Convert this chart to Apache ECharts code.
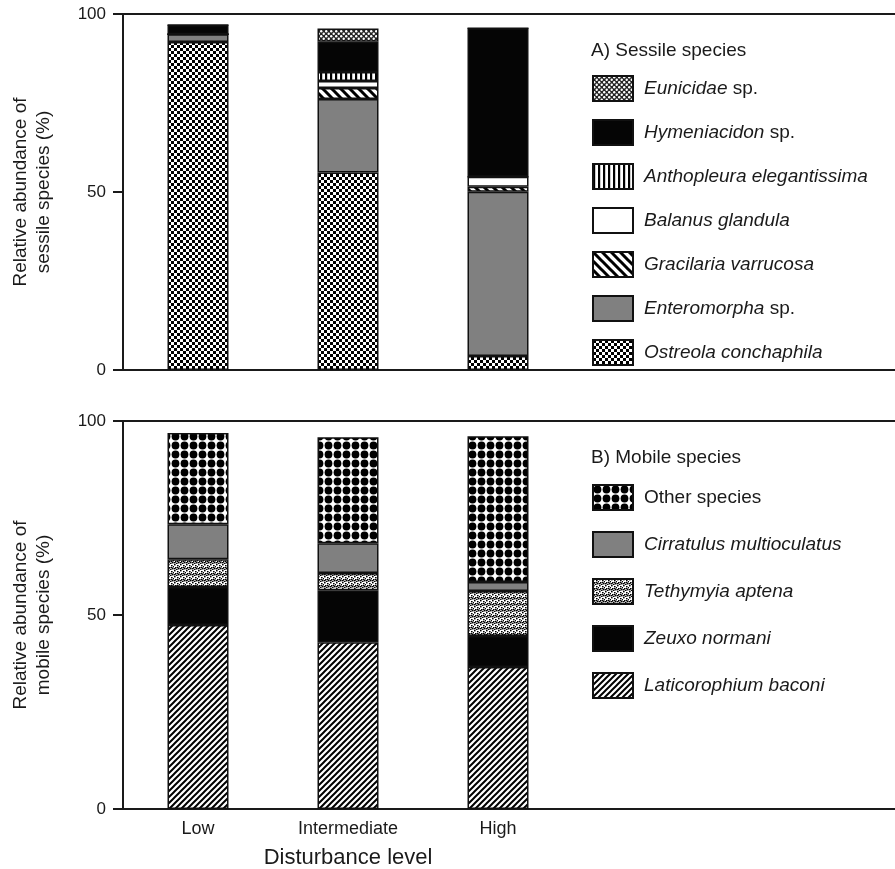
<!DOCTYPE html>
<html>
<head>
<meta charset="utf-8">
<script src="https://cdn.jsdelivr.net/npm/echarts@6/dist/echarts.min.js"></script>
<style>
html,body{margin:0;padding:0;background:#fff}
#main{width:895px;height:869px}
</style>
</head>
<body>
<div id="main"></div>
<script>
// x categories and y ticks
var levels = ['Low', 'Intermediate', 'High'];
var yTicks = [0, 50, 100];

// A) sessile species, bottom of stack first (%)
var ostreola = [92.1, 55.5, 3.9];
var enteromorpha = [2.2, 20.6, 46.2];
var gracilaria = [0, 3.1, 1.4];
var balanus = [0, 2.0, 2.8];
var anthopleura = [0, 2.5, 0];
var hymeniacidon = [2.6, 8.5, 41.7];
var eunicidae = [0, 3.7, 0];

// B) mobile species, bottom of stack first (%)
var laticorophium = [47.4, 43.0, 36.6];
var zeuxo = [9.8, 13.4, 8.0];
var tethymyia = [7.2, 4.4, 11.6];
var cirratulus = [9.0, 7.7, 2.3];
var otherSp = [23.5, 27.3, 37.6];

var FONT = '"Liberation Sans", Arial, Helvetica, sans-serif';
var INK = '#1a1a1a';

// small canvas tiles used as fill patterns
function tile(w, h, draw) {
  var c = document.createElement('canvas');
  c.width = w; c.height = h;
  var g = c.getContext('2d');
  g.fillStyle = '#fff';
  g.fillRect(0, 0, w, h);
  g.fillStyle = '#000';
  g.strokeStyle = '#000';
  draw(g, w, h);
  return { image: c, repeat: 'repeat' };
}
var pChecker = tile(6, 6, function (g) {
  g.fillRect(0, 0, 3, 3);
  g.fillRect(3, 3, 3, 3);
});
var pFineDots = tile(5, 5, function (g) {
  g.fillStyle = '#222';
  g.fillRect(0, 0, 5, 5);
  g.fillStyle = '#fff';
  g.beginPath(); g.arc(1.2, 1.2, 1.2, 0, Math.PI * 2); g.fill();
  g.beginPath(); g.arc(3.7, 3.7, 1.2, 0, Math.PI * 2); g.fill();
});
var pVert = tile(5, 5, function (g) {
  g.fillRect(0, 0, 2.2, 5);
});
var pBack = tile(9, 9, function (g, s) {
  g.lineWidth = 3;
  g.beginPath();
  g.moveTo(0, 0); g.lineTo(s, s);
  g.moveTo(-2, s - 2); g.lineTo(2, s + 2);
  g.moveTo(s - 2, -2); g.lineTo(s + 2, 2);
  g.stroke();
});
var pFwd = tile(6, 6, function (g, s) {
  g.lineWidth = 2;
  g.beginPath();
  g.moveTo(0, s); g.lineTo(s, 0);
  g.moveTo(-2, 2); g.lineTo(2, -2);
  g.moveTo(s - 2, s + 2); g.lineTo(s + 2, s - 2);
  g.stroke();
});
var pBigDots = tile(9, 9, function (g) {
  g.beginPath(); g.arc(4.5, 4.5, 3.9, 0, Math.PI * 2); g.fill();
});
var pStipple = tile(6, 6, function (g) {
  var pts = [[0, 0], [3, 1], [1, 3], [4, 4], [5, 2], [2, 5], [0, 4], [3, 3]];
  pts.forEach(function (p) { g.fillRect(p[0], p[1], 1.6, 1.4); });
});
var GREY = '#808080';
var BLACK = '#050505';

function barSeries(name, data, color, stack, gi) {
  return {
    name: name,
    type: 'bar',
    stack: stack,
    xAxisIndex: gi,
    yAxisIndex: gi,
    barWidth: 61,
    data: data,
    itemStyle: { color: color, borderColor: '#111', borderWidth: 1.5 },
    emphasis: { disabled: true }
  };
}

function legendLabel(name) {
  if (name === 'Other species') return '{n|' + name + '}';
  if (/ sp\.$/.test(name)) return '{i|' + name.slice(0, -4) + '}{n| sp.}';
  return '{i|' + name + '}';
}
var legendText = {
  color: INK,
  padding: [0, 0, 0, 6],
  rich: {
    i: { fontFamily: FONT, fontStyle: 'italic', fontSize: 19, color: INK },
    n: { fontFamily: FONT, fontSize: 19, color: INK }
  }
};

function yAxis(gi, label) {
  return {
    type: 'value', gridIndex: gi, min: 0, max: 100, interval: 50,
    name: label, nameLocation: 'middle', nameGap: 68, nameRotate: 90,
    nameTextStyle: { fontFamily: FONT, fontSize: 19, lineHeight: 23, color: INK },
    axisLine: { show: true, lineStyle: { color: INK, width: 2 } },
    axisTick: { show: true, length: 10, lineStyle: { color: INK, width: 2 } },
    axisLabel: { margin: 17, fontFamily: FONT, fontSize: 17, color: INK,
      formatter: function (v) { return yTicks.indexOf(v) >= 0 ? String(v) : ''; } },
    splitLine: { show: false }
  };
}
function lineAxis(gi, pos) {
  return {
    type: 'value', gridIndex: gi, position: pos, min: 0, max: 1,
    axisLine: { show: true, onZero: false, lineStyle: { color: INK, width: 2 } },
    axisTick: { show: false }, axisLabel: { show: false }, splitLine: { show: false }
  };
}
function hiddenY(gi) {
  return { type: 'value', gridIndex: gi, min: 0, max: 1, show: false };
}

var chart = echarts.init(document.getElementById('main'));
chart.setOption({
  animation: false,
  backgroundColor: '#fff',
  title: [
    { text: 'A) Sessile species', left: 591, top: 41, padding: 0,
      textStyle: { fontFamily: FONT, fontSize: 19, fontWeight: 'normal', color: INK } },
    { text: 'B) Mobile species', left: 591, top: 448, padding: 0,
      textStyle: { fontFamily: FONT, fontSize: 19, fontWeight: 'normal', color: INK } }
  ],
  legend: [
    { data: ['Eunicidae sp.', 'Hymeniacidon sp.', 'Anthopleura elegantissima', 'Balanus glandula',
        'Gracilaria varrucosa', 'Enteromorpha sp.', 'Ostreola conchaphila'],
      orient: 'vertical', left: 592, top: 75, padding: 0,
      itemWidth: 40, itemHeight: 25, itemGap: 17, icon: 'rect',
      selectedMode: false, formatter: legendLabel, textStyle: legendText },
    { data: ['Other species', 'Cirratulus multioculatus', 'Tethymyia aptena', 'Zeuxo normani',
        'Laticorophium baconi'],
      orient: 'vertical', left: 592, top: 484, padding: 0,
      itemWidth: 40, itemHeight: 25, itemGap: 20, icon: 'rect',
      selectedMode: false, formatter: legendLabel, textStyle: legendText }
  ],
  grid: [
    { left: 123, width: 450, top: 14, height: 356, outerBoundsMode: 'none', containLabel: false },
    { left: 123, right: 0, top: 14, height: 356, outerBoundsMode: 'none', containLabel: false },
    { left: 123, width: 450, top: 421, height: 388, outerBoundsMode: 'none', containLabel: false },
    { left: 123, right: 0, top: 421, height: 388, outerBoundsMode: 'none', containLabel: false }
  ],
  xAxis: [
    { type: 'category', gridIndex: 0, data: levels, axisLine: { show: false },
      axisTick: { show: false }, axisLabel: { show: false } },
    lineAxis(1, 'bottom'),
    { type: 'category', gridIndex: 2, data: levels, axisLine: { show: false },
      axisTick: { show: false },
      axisLabel: { margin: 11, fontFamily: FONT, fontSize: 18, color: INK },
      name: 'Disturbance level', nameLocation: 'middle', nameGap: 38,
      nameTextStyle: { fontFamily: FONT, fontSize: 22, color: INK } },
    lineAxis(3, 'bottom'),
    lineAxis(1, 'top'),
    lineAxis(3, 'top')
  ],
  yAxis: [
    yAxis(0, 'Relative abundance of\nsessile species (%)'),
    hiddenY(1),
    yAxis(2, 'Relative abundance of\nmobile species (%)'),
    hiddenY(3)
  ],
  series: [
    barSeries('Ostreola conchaphila', ostreola, pChecker, 'a', 0),
    barSeries('Enteromorpha sp.', enteromorpha, GREY, 'a', 0),
    barSeries('Gracilaria varrucosa', gracilaria, pBack, 'a', 0),
    barSeries('Balanus glandula', balanus, '#fff', 'a', 0),
    barSeries('Anthopleura elegantissima', anthopleura, pVert, 'a', 0),
    barSeries('Hymeniacidon sp.', hymeniacidon, BLACK, 'a', 0),
    barSeries('Eunicidae sp.', eunicidae, pFineDots, 'a', 0),
    barSeries('Laticorophium baconi', laticorophium, pFwd, 'b', 2),
    barSeries('Zeuxo normani', zeuxo, BLACK, 'b', 2),
    barSeries('Tethymyia aptena', tethymyia, pStipple, 'b', 2),
    barSeries('Cirratulus multioculatus', cirratulus, GREY, 'b', 2),
    barSeries('Other species', otherSp, pBigDots, 'b', 2)
  ]
});
</script>
</body>
</html>
